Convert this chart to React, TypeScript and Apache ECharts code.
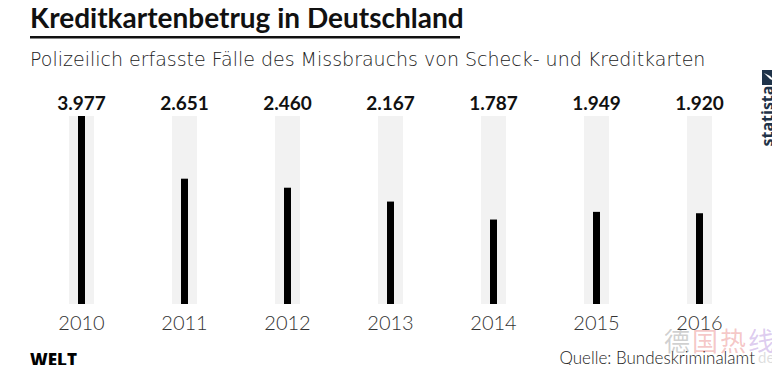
import React, { useEffect, useRef } from "react";
import * as echarts from "echarts";

const years = ["2010", "2011", "2012", "2013", "2014", "2015", "2016"];
const cases = [3977, 2651, 2460, 2167, 1787, 1949, 1920];

const titleText = "Kreditkartenbetrug in Deutschland";
const subtitleText = "Polizeilich erfasste Fälle des Missbrauchs von Scheck- und Kreditkarten";
const sourceText = "Quelle: Bundeskriminalamt";

const fmt = (v: number) => v.toLocaleString("de-DE");

export default function App() {
  const ref = useRef<HTMLDivElement>(null);
  useEffect(() => {
    if (!ref.current) return;
    const chart = echarts.init(ref.current, null, { renderer: "svg" });
    const axisMax = Math.max(...cases);
    const font = "Lato, 'Open Sans', sans-serif";
    const cjk = "'Noto Sans CJK SC', sans-serif";
    chart.setOption({
      animation: false,
      backgroundColor: "#ffffff",
      grid: { left: 30, right: 29, top: 116, bottom: 69 },
      xAxis: [
        {
          type: "category",
          data: years,
          axisLine: { show: false },
          axisTick: { show: false },
          axisLabel: {
            color: "#333333",
            fontSize: 20,
            fontFamily: font,
            fontWeight: 300,
            margin: 8,
          },
        },
        {
          type: "category",
          data: years,
          show: false,
        },
      ],
      yAxis: { type: "value", min: 0, max: axisMax, show: false },
      series: [
        {
          type: "bar",
          xAxisIndex: 1,
          data: years.map(() => axisMax),
          barWidth: 25,
          itemStyle: { color: "#f2f2f2" },
          silent: true,
          label: {
            show: true,
            position: "top",
            distance: 4,
            formatter: (p: any) => fmt(cases[p.dataIndex]),
            color: "#111111",
            fontSize: 19,
            fontWeight: "bold",
            fontFamily: font,
          },
        },
        {
          type: "bar",
          xAxisIndex: 0,
          data: cases,
          barWidth: 7,
          itemStyle: { color: "#000000" },
        },
      ],
      graphic: [
        {
          type: "text",
          x: 30,
          y: 17,
          style: {
            text: titleText,
            fontSize: 28,
            fontWeight: "bold",
            fontFamily: font,
            fill: "#111111",
            verticalAlign: "middle",
          },
        },
        {
          type: "rect",
          shape: { x: 30, y: 36, width: 430, height: 2.5 },
          style: { fill: "#111111" },
        },
        {
          type: "text",
          x: 30,
          y: 59,
          style: {
            text: subtitleText,
            fontSize: 19,
            fontWeight: 200,
            fontFamily: "'DejaVu Sans', sans-serif",
            fill: "#222222",
            verticalAlign: "middle",
          },
        },
        {
          type: "text",
          x: 30,
          y: 359,
          style: {
            text: "WELT",
            fontSize: 17,
            fontWeight: 900,
            fontFamily: "'Open Sans', sans-serif",
            fill: "#000000",
            verticalAlign: "middle",
          },
        },
        {
          type: "text",
          x: 755,
          y: 357,
          style: {
            text: sourceText,
            align: "right",
            verticalAlign: "middle",
            fontSize: 17,
            fontFamily: font,
            fontWeight: 300,
            fill: "#222222",
          },
        },
        {
          type: "text",
          x: 758,
          y: 357,
          style: {
            text: "de",
            verticalAlign: "middle",
            fontSize: 15,
            fontFamily: font,
            fill: "rgba(160,160,160,0.35)",
          },
        },
        { type: "text", x: 664, y: 339, style: { text: "德", verticalAlign: "middle", fontSize: 26, fontFamily: cjk, fill: "rgba(120,120,120,0.35)" } },
        { type: "text", x: 692, y: 339, style: { text: "国", verticalAlign: "middle", fontSize: 26, fontFamily: cjk, fill: "rgba(220,60,60,0.3)" } },
        { type: "text", x: 720, y: 339, style: { text: "热", verticalAlign: "middle", fontSize: 26, fontFamily: cjk, fill: "rgba(220,60,60,0.3)" } },
        { type: "text", x: 748, y: 339, style: { text: "线", verticalAlign: "middle", fontSize: 26, fontFamily: cjk, fill: "rgba(140,80,200,0.3)" } },
        { type: "rect", shape: { x: 762, y: 70, width: 16, height: 15 }, style: { fill: "#1f3349" } },
        {
          type: "polygon",
          shape: { points: [[764, 73], [770, 76], [776, 82], [770, 79]] },
          style: { fill: "#ffffff" },
        },
        {
          type: "text",
          x: 767,
          y: 116,
          rotation: Math.PI / 2,
          style: {
            text: "statista",
            fontSize: 16,
            fontWeight: "bold",
            fontFamily: "'Open Sans', sans-serif",
            fill: "#1f3349",
            align: "center",
            verticalAlign: "middle",
          },
        },
      ],
    });
    return () => chart.dispose();
  }, []);
  return <div ref={ref} style={{ width: 780, height: 373, margin: -8 }} />;
}
